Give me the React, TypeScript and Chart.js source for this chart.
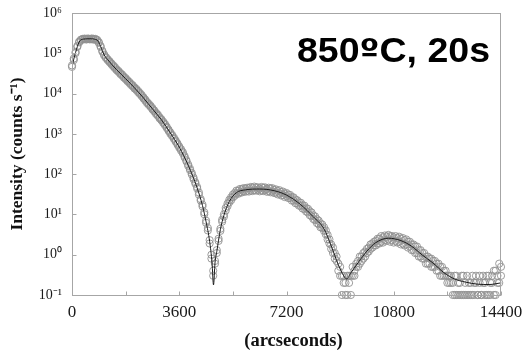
import React, { useEffect, useRef } from 'react';
import { Chart, registerables } from 'chart.js';
Chart.register(...registerables);

// Measured scans: angle (arcseconds) and intensity (counts/s)
const scanArcsec = [
  0, 60, 120, 180, 240, 300, 360, 420, 480, 540,
  600, 660, 720, 780, 840, 900, 960, 1020, 1080, 1140,
  1200, 1260, 1320, 1380, 1440, 1500, 1560, 1620, 1680, 1740,
  1800, 1860, 1920, 1980, 2040, 2100, 2160, 2220, 2280, 2340,
  2400, 2460, 2520, 2580, 2640, 2700, 2760, 2820, 2880, 2940,
  3000, 3060, 3120, 3180, 3240, 3300, 3360, 3420, 3480, 3540,
  3600, 3660, 3720, 3780, 3840, 3900, 3960, 4020, 4080, 4140,
  4200, 4260, 4320, 4380, 4440, 4500, 4560, 4620, 4680, 4740,
  4800, 4860, 4920, 4980, 5040, 5100, 5160, 5220, 5280, 5340,
  5400, 5460, 5520, 5580, 5640, 5700, 5760, 5820, 5880, 5940,
  6000, 6060, 6120, 6180, 6240, 6300, 6360, 6420, 6480, 6540,
  6600, 6660, 6720, 6780, 6840, 6900, 6960, 7020, 7080, 7140,
  7200, 7260, 7320, 7380, 7440, 7500, 7560, 7620, 7680, 7740,
  7800, 7860, 7920, 7980, 8040, 8100, 8160, 8220, 8280, 8340,
  8400, 8460, 8520, 8580, 8640, 8700, 8760, 8820, 8880, 8940,
  9000, 9060, 9120, 9180, 9240, 9300, 9360, 9420, 9480, 9540,
  9600, 9660, 9720, 9780, 9840, 9900, 9960, 10020, 10080, 10140,
  10200, 10260, 10320, 10380, 10440, 10500, 10560, 10620, 10680, 10740,
  10800, 10860, 10920, 10980, 11040, 11100, 11160, 11220, 11280, 11340,
  11400, 11460, 11520, 11580, 11640, 11700, 11760, 11820, 11880, 11940,
  12000, 12060, 12120, 12180, 12240, 12300, 12360, 12420, 12480, 12540,
  12600, 12660, 12720, 12780, 12840, 12900, 12960, 13020, 13080, 13140,
  13200, 13260, 13320, 13380, 13440, 13500, 13560, 13620, 13680, 13740,
  13800, 13860, 13920, 13980, 14040, 14100, 14160, 14220, 14280, 14340,
  14400,
];

const scanIntensityA = [
  46000, 74000, 101000, 152000, 186000, 219000, 221000, 232000, 219000, 233000,
  226000, 224000, 230000, 219000, 210000, 190000, 143000, 115000, 88000, 80000,
  67000, 63500, 53500, 50500, 42500, 40000, 34500, 32500, 28000, 26500,
  22700, 21600, 18400, 17500, 15000, 14200, 12200, 11600, 9700, 9200,
  7550, 7100, 5800, 5550, 4650, 4350, 3600, 3350, 2800, 2580,
  2170, 2010, 1640, 1500, 1190, 1090, 880, 805, 640, 580,
  455, 415, 328, 280, 207, 173, 126, 107, 75, 63,
  44, 35, 22, 17.5, 10.1, 7.0, 4.0, 2.3, 0.8, 0.3,
  0.6, 1.3, 2.2, 4.4, 6.6, 10.0, 12.5, 18.5, 20, 26.5,
  26.5, 34, 33, 39, 35, 42, 37.5, 44, 38.5, 45,
  39, 46, 40, 47, 41, 44, 39.5, 46, 40, 43,
  38, 44, 37, 41, 35, 38.5, 33, 36, 30, 33,
  28.5, 31, 25.5, 27, 22, 23.5, 18.5, 20, 16.2, 17,
  13.5, 14.3, 11.2, 12, 9.0, 9.5, 7.2, 7.6, 5.7, 6.0,
  4.6, 4.8, 3.2, 3.1, 1.9, 1.8, 1.1, 1.1, 0.7, 0.6,
  0.3, 0.1, 0.3, 0.2, 0.1, 0.3, 0.1, 0.3, 0.4, 0.5,
  0.7, 0.6, 0.9, 0.8, 1.2, 1.1, 1.5, 1.4, 1.9, 1.7,
  2.2, 1.9, 2.5, 2.1, 2.7, 2.3, 2.8, 2.4, 2.9, 2.3,
  2.7, 2.2, 2.6, 2.1, 2.5, 1.9, 2.3, 1.8, 2.1, 1.6,
  1.8, 1.3, 1.6, 1.1, 1.3, 0.9, 1.1, 0.8, 0.9, 0.6,
  0.8, 0.5, 0.7, 0.5, 0.6, 0.4, 0.5, 0.3, 0.4, 0.3,
  0.2, 0.3, 0.2, 0.1, 0.3, 0.1, 0.2, 0.1, 0.3, 0.1,
  0.2, 0.1, 0.2, 0.1, 0.3, 0.1, 0.2, 0.1, 0.3, 0.1,
  0.2, 0.1, 0.3, 0.1, 0.2, 0.3, 0.1, 0.4, 0.2, 0.6,
  0.3,
];

const scanIntensityB = [
  50000, 68000, 108000, 144000, 195000, 209000, 228000, 224000, 229000, 225000,
  221000, 233000, 218000, 228000, 217000, 181000, 152000, 109000, 93000, 76000,
  71000, 60000, 56500, 47500, 45500, 37800, 36500, 30600, 29800, 24900,
  24200, 20300, 19600, 16400, 16000, 13300, 13000, 10800, 10300, 8600,
  8050, 6650, 6200, 5200, 4950, 4050, 3820, 3120, 3000, 2420,
  2310, 1880, 1760, 1400, 1270, 1010, 940, 750, 685, 540,
  485, 385, 352, 260, 222, 160, 137, 98, 82, 58,
  48, 31, 24, 15.8, 11.3, 6.2, 4.6, 1.9, 1.0, 0.4,
  0.7, 1.1, 2.5, 3.9, 7.4, 8.8, 14.5, 16, 23, 22.5,
  31, 29, 39, 32.5, 43, 35, 45, 36.5, 46, 37,
  48, 38, 49, 39, 47, 37.5, 48, 38, 47, 36.5,
  46, 35.5, 45, 34, 42, 31.5, 40, 29.5, 37, 27,
  34, 25.5, 30.5, 22, 26.5, 19, 22.5, 16.5, 19.5, 14,
  16.5, 11.8, 13.8, 9.6, 11.2, 7.7, 8.9, 6.1, 7.0, 4.8,
  5.6, 3.9, 4.0, 2.4, 2.4, 1.4, 1.5, 0.8, 0.9, 0.4,
  0.5, 0.3, 0.2, 0.1, 0.3, 0.2, 0.3, 0.5, 0.3, 0.6,
  0.5, 0.9, 0.7, 1.1, 0.9, 1.4, 1.2, 1.8, 1.5, 2.1,
  1.7, 2.5, 1.9, 2.9, 2.0, 3.0, 2.2, 3.1, 2.1, 2.9,
  2.0, 2.9, 2.0, 2.8, 1.8, 2.6, 1.7, 2.4, 1.5, 2.1,
  1.3, 1.8, 1.1, 1.6, 0.9, 1.3, 0.8, 1.1, 0.6, 0.9,
  0.6, 0.8, 0.5, 0.7, 0.4, 0.6, 0.3, 0.5, 0.3, 0.4,
  0.3, 0.2, 0.3, 0.2, 0.1, 0.3, 0.1, 0.2, 0.1, 0.3,
  0.1, 0.3, 0.1, 0.2, 0.1, 0.2, 0.3, 0.1, 0.2, 0.1,
  0.3, 0.2, 0.1, 0.3, 0.1, 0.2, 0.4, 0.1, 0.3, 0.2,
  0.5,
];

// Simulated (fit) curve
const fitArcsec = [
  0, 120, 240, 360, 600, 840, 960, 1080, 1200, 1500,
  1800, 2100, 2400, 2700, 3000, 3300, 3600, 3900, 4200, 4380,
  4500, 4620, 4700, 4750, 4800, 4860, 4980, 5100, 5280, 5520,
  5820, 6300, 6780, 7200, 7680, 8100, 8460, 8700, 8940, 9120,
  9220, 9360, 9600, 9900, 10200, 10620, 11040, 11400, 11760, 12120,
  12480, 12840, 13200, 13600, 14000, 14400,
];
const fitIntensity = [
  47900, 104700, 190500, 223900, 229100, 213800, 147900, 91200, 69200, 38900,
  23400, 13800, 7760, 4170, 2240, 1050, 468, 166, 45.7, 16.6,
  6.6, 2.14, 0.63, 0.178, 0.63, 1.2, 4.17, 9.55, 20.9, 34.7,
  40.7, 42.7, 38.9, 30.2, 17.4, 8.7, 4.37, 1.66, 0.56, 0.3,
  0.25, 0.355, 0.63, 1.23, 2.0, 2.57, 2.24, 1.62, 0.98, 0.62,
  0.36, 0.25, 0.21, 0.186, 0.182, 0.2,
];

const xTickValues = [0, 1800, 3600, 5400, 7200, 9000, 10800, 12600, 14400];
const xTickLabels = ['0', '', '3600', '', '7200', '', '10800', '', '14400'];
const yTickValues = [0.1, 1, 10, 100, 1000, 10000, 100000, 1000000];
const yTickLabels = ['10⁻¹', '10⁰', '10¹', '10²', '10³', '10⁴', '10⁵', '10⁶'];
const xTitle = '   (arcseconds)';
const yTitle = 'Intensity (counts s⁻¹)';
const sampleLabelParts = ['850', 'º', 'C, 20s'];

const AXIS_GREY = '#a6a6a6';
const SERIF = '"Liberation Serif", "Times New Roman", serif';

export default function App() {
  const ref = useRef<HTMLCanvasElement>(null);

  useEffect(() => {
    document.body.style.margin = '0';
    const canvas = ref.current;
    if (!canvas) return;

    const framePlugin = {
      id: 'frame',
      afterDraw(chart: any) {
        const { ctx, chartArea } = chart;
        const l = Math.round(chartArea.left) + 0.5;
        const t = Math.round(chartArea.top) + 0.5;
        const r = Math.round(chartArea.right) - 0.5;
        const b = Math.round(chartArea.bottom) + 0.5;
        ctx.save();
        ctx.strokeStyle = AXIS_GREY;
        ctx.lineWidth = 1;
        ctx.strokeRect(l, t, r - l, b - t);
        // inward tick marks, placed through the scales
        ctx.beginPath();
        const xs = chart.scales.x;
        xs.ticks.forEach((tk: any) => {
          const px = Math.round(xs.getPixelForValue(tk.value)) + 0.5;
          ctx.moveTo(px, b);
          ctx.lineTo(px, b - 4);
        });
        const ys = chart.scales.y;
        ys.ticks.forEach((tk: any) => {
          const py = Math.round(ys.getPixelForValue(tk.value)) + 0.5;
          ctx.moveTo(l, py);
          ctx.lineTo(l + 4, py);
        });
        ctx.stroke();
        ctx.restore();
      },
    };

    const labelPlugin = {
      id: 'sampleLabel',
      afterDraw(chart: any) {
        const { ctx, chartArea } = chart;
        const fonts = [
          'bold 35px "Liberation Sans", Arial, sans-serif',
          'bold 33px "DejaVu Sans", sans-serif',
          'bold 35px "Liberation Sans", Arial, sans-serif',
        ];
        ctx.save();
        ctx.fillStyle = '#000';
        ctx.textBaseline = 'alphabetic';
        let total = 0;
        const widths = sampleLabelParts.map((p, i) => {
          ctx.font = fonts[i];
          const w = ctx.measureText(p).width;
          total += w;
          return w;
        });
        const target = 193;
        ctx.translate(chartArea.left + 225, chartArea.top + 49);
        ctx.scale(target / total, 1);
        let x = 0;
        sampleLabelParts.forEach((p, i) => {
          ctx.font = fonts[i];
          ctx.fillText(p, x, 0);
          x += widths[i];
        });
        ctx.restore();
      },
    };

    const pointStyle = {
      type: 'scatter',
      pointStyle: 'circle',
      pointRadius: 3.6,
      borderColor: '#919191',
      borderWidth: 0.9,
      backgroundColor: 'rgba(255,255,255,0)',
      clip: false,
      order: 2,
    };

    const chart = new Chart(canvas, {
      type: 'scatter',
      data: {
        datasets: [
          {
            type: 'line',
            label: 'fit',
            data: fitArcsec.map((x, i) => ({ x, y: fitIntensity[i] })),
            borderColor: '#1a1a1a',
            borderWidth: 1,
            pointRadius: 0,
            cubicInterpolationMode: 'monotone',
            fill: false,
            order: 1,
          } as any,
          {
            ...pointStyle,
            label: 'scan A',
            data: scanArcsec.map((x, i) => ({ x, y: scanIntensityA[i] })),
          } as any,
          {
            ...pointStyle,
            label: 'scan B',
            data: scanArcsec.map((x, i) => ({ x, y: scanIntensityB[i] })),
          } as any,
        ],
      },
      options: {
        responsive: false,
        animation: false,
        devicePixelRatio: 1,
        layout: { padding: { top: 13, right: 23, left: 0, bottom: 0 } },
        plugins: {
          legend: { display: false },
          tooltip: { enabled: false },
        },
        scales: {
          x: {
            type: 'linear',
            min: 0,
            max: 14400,
            afterBuildTicks: (s: any) => {
              s.ticks = xTickValues.map((v) => ({ value: v }));
            },
            afterFit: (s: any) => {
              s.height = 59;
            },
            grid: { drawOnChartArea: false, drawTicks: true, tickLength: 7, color: 'rgba(0,0,0,0)' },
            border: { display: false },
            ticks: {
              autoSkip: false,
              maxRotation: 0,
              padding: 0,
              color: '#1a1a1a',
              font: { family: SERIF, size: 17 },
              callback: (_v: any, i: number) => xTickLabels[i],
            },
            title: {
              display: true,
              text: xTitle,
              color: '#111',
              font: { family: SERIF, size: 18.5, weight: 'bold' },
              padding: { top: 2, bottom: 2 },
            },
          },
          y: {
            type: 'logarithmic',
            min: 0.1,
            max: 1000000,
            afterBuildTicks: (s: any) => {
              s.ticks = yTickValues.map((v) => ({ value: v }));
            },
            afterFit: (s: any) => {
              s.width = 72;
            },
            grid: { drawOnChartArea: false, drawTicks: true, tickLength: 10, color: 'rgba(0,0,0,0)' },
            border: { display: false },
            ticks: {
              autoSkip: false,
              padding: 0,
              color: '#1a1a1a',
              font: { family: SERIF, size: 14 },
              callback: (_v: any, i: number) => yTickLabels[i],
            },
            title: {
              display: true,
              text: yTitle,
              color: '#111',
              font: { family: SERIF, size: 17.5, weight: 'bold' },
              padding: { top: 7, bottom: 7 },
            },
          },
        },
      } as any,
      plugins: [framePlugin, labelPlugin],
    });

    return () => chart.destroy();
  }, []);

  return (
    <div style={{ width: 524, height: 354, background: '#fff' }}>
      <canvas ref={ref} width={524} height={354} style={{ width: 524, height: 354, display: 'block' }} />
    </div>
  );
}
